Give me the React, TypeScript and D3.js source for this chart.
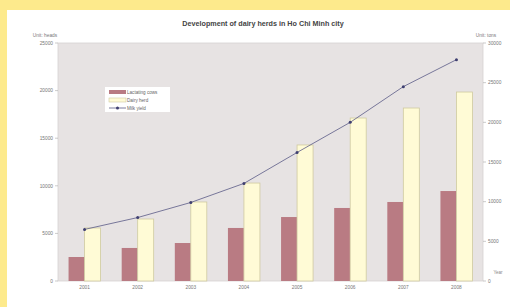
import React from 'react';
import * as d3 from 'd3';

const years = ['2001', '2002', '2003', '2004', '2005', '2006', '2007', '2008'];
const lactating = [2520, 3470, 3990, 5570, 6720, 7670, 8300, 9450];
const dairyHerd = [5570, 6510, 8300, 10290, 14290, 17120, 18170, 19850];
const milkYield = [6500, 8000, 9900, 12300, 16200, 20000, 24500, 27900];
const leftTicks = [0, 5000, 10000, 15000, 20000, 25000];
const rightTicks = [0, 5000, 10000, 15000, 20000, 25000, 30000];
const seriesNames = ['Lactating cows', 'Dairy herd', 'Milk yield'];

const W = 510;
const H = 307;
const plot = { left: 58, right: 483, top: 43, bottom: 281 };
const font = 'Liberation Sans, Arial, sans-serif';

const App: React.FC = () => {
  const x0 = d3.scaleBand<string>().domain(years).range([plot.left, plot.right]);
  const x1 = d3
    .scaleBand<string>()
    .domain(['a', 'b'])
    .range([0, x0.bandwidth()])
    .paddingInner(0)
    .paddingOuter(0.66);
  const yL = d3.scaleLinear().domain([0, 25000]).range([plot.bottom, plot.top]);
  const yR = d3.scaleLinear().domain([0, 30000]).range([plot.bottom, plot.top]);

  const cx = (y: string) => (x0(y) ?? 0) + x0.bandwidth() / 2;
  const line = d3
    .line<number>()
    .x((_, i) => cx(years[i]))
    .y((d) => yR(d));

  return (
    <svg
      width={W}
      height={H}
      style={{ position: 'absolute', left: 0, top: 0, display: 'block' }}
      fontFamily={font}
    >
      <rect width={W} height={H} fill="#fdea8c" />
      <rect x={7} y={10} width={W - 7} height={H - 10} fill="#ffffff" />

      {/* title */}
      <text x={263} y={26} textAnchor="middle" fontSize={7.2} fill="#444" fontWeight="bold">
        Development of dairy herds in Ho Chi Minh city
      </text>
      <text x={45} y={37} textAnchor="middle" fontSize={4.8} fill="#777">
        Unit: heads
      </text>
      <text x={486} y={37} textAnchor="middle" fontSize={4.8} fill="#777">
        Unit: tons
      </text>

      {/* plot area */}
      <rect
        x={plot.left}
        y={plot.top}
        width={plot.right - plot.left}
        height={plot.bottom - plot.top}
        fill="#e7e3e3"
        stroke="#d6d2d2"
        strokeWidth={0.8}
      />

      {/* left axis */}
      {leftTicks.map((t) => (
        <g key={'l' + t}>
          <line x1={plot.left - 3} x2={plot.left} y1={yL(t)} y2={yL(t)} stroke="#aaa" strokeWidth={0.6} />
          <text x={plot.left - 5} y={yL(t) + 1.7} textAnchor="end" fontSize={4.8} fill="#777">
            {t}
          </text>
        </g>
      ))}

      {/* right axis */}
      {rightTicks.map((t) => (
        <g key={'r' + t}>
          <line x1={plot.right} x2={plot.right + 3} y1={yR(t)} y2={yR(t)} stroke="#aaa" strokeWidth={0.6} />
          <text x={plot.right + 5} y={yR(t) + 1.7} textAnchor="start" fontSize={4.8} fill="#777">
            {t}
          </text>
        </g>
      ))}
      <text x={498} y={274} textAnchor="middle" fontSize={4.5} fill="#888">
        Year
      </text>

      {/* bars */}
      {years.map((y, i) => (
        <g key={y} transform={`translate(${x0(y)},0)`}>
          <rect
            x={x1('a')}
            y={yL(lactating[i])}
            width={x1.bandwidth()}
            height={plot.bottom - yL(lactating[i])}
            fill="#b97b83"
          />
          <rect
            x={x1('b')}
            y={yL(dairyHerd[i])}
            width={x1.bandwidth()}
            height={plot.bottom - yL(dairyHerd[i])}
            fill="#fffbd6"
            stroke="#cfcaa0"
            strokeWidth={0.8}
          />
        </g>
      ))}

      {/* line */}
      <path d={line(milkYield) ?? ''} fill="none" stroke="#5a5a86" strokeWidth={0.8} />
      {milkYield.map((v, i) => (
        <circle key={i} cx={cx(years[i])} cy={yR(v)} r={1.5} fill="#3e3e70" />
      ))}

      {/* x labels */}
      {years.map((y) => (
        <text key={'x' + y} x={cx(y)} y={289} textAnchor="middle" fontSize={4.8} fill="#777">
          {y}
        </text>
      ))}

      {/* legend */}
      <g transform="translate(105,87)">
        <rect width={65} height={25} fill="#ffffff" />
        <rect x={4} y={3} width={17} height={4} fill="#b97b83" />
        <rect x={4} y={11} width={17} height={4} fill="#fffbd6" stroke="#cfcaa0" strokeWidth={0.6} />
        <line x1={4} x2={21} y1={21} y2={21} stroke="#5a5a86" strokeWidth={0.8} />
        <circle cx={12.5} cy={21} r={1.5} fill="#3e3e70" />
        {seriesNames.map((n, i) => (
          <text key={n} x={22} y={6.7 + i * 8} fontSize={4.6} fill="#666">
            {n}
          </text>
        ))}
      </g>
    </svg>
  );
};

export default App;
